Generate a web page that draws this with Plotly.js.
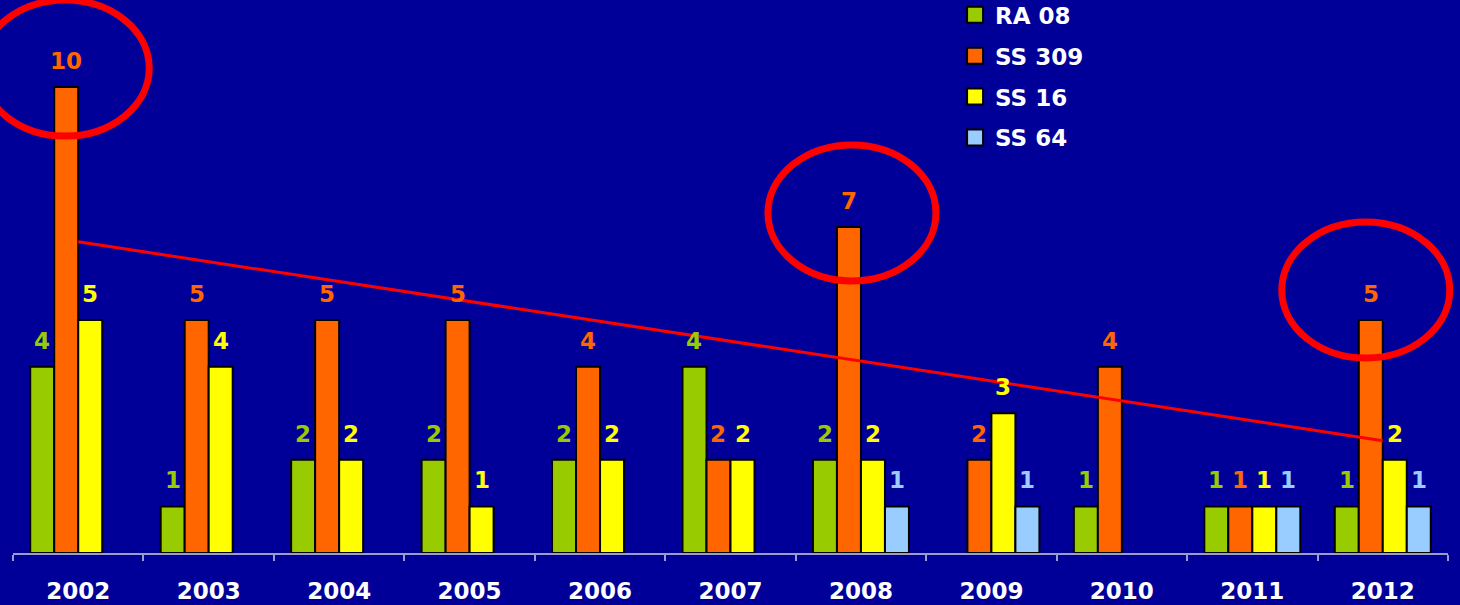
<!DOCTYPE html>
<html>
<head>
<meta charset="utf-8">
<script src="https://cdn.plot.ly/plotly-3.0.1.min.js"></script>
<style>
html,body{margin:0;padding:0;background:#000099;}
#chart{width:1460px;height:605px;}
</style>
</head>
<body>
<div id="chart"></div>
<script>
// ---- data ----
var years = ['2002','2003','2004','2005','2006','2007','2008','2009','2010','2011','2012'];
var ra08  = [4, 1, 2, 2, 2, 4, 2, null, 1, 1, 1];
var ss309 = [10, 5, 5, 5, 4, 2, 7, 2, 4, 1, 5];
var ss16  = [5, 4, 2, 1, 2, 2, 2, 3, null, 1, 2];
var ss64  = [null, null, null, null, null, null, 1, 1, null, 1, 1];
var seriesNames = ['RA 08', 'SS 309', 'SS 16', 'SS 64'];
var seriesColors = ['#99CC00', '#FF6600', '#FFFF00', '#99CCFF'];
// SS 309 trend line
var trendYears = ['2002', '2012'];
var trendValues = [6.68, 2.41];
// highlighted peaks (ellipses around SS 309 bars)
var highlightYears = ['2002', '2008', '2012'];
var highlightValues = [10, 7, 5];

// ---- layout constants ----
var W = 1460, H = 605;
var mL = 13, mR = 12, mT = 0, mB = 52;
var yMax = 11.87;
var bargap = 0.264;
var nSeries = 4;
var catW = (W - mL - mR) / years.length;
var slotW = catW * (1 - bargap) / nSeries;
var font = 'DejaVu Sans, Liberation Sans, Arial, sans-serif';

var allSeries = [ra08, ss309, ss16, ss64];
var traces = [];
allSeries.forEach(function (vals, i) {
  traces.push({
    type: 'bar', x: years, y: vals, name: seriesNames[i],
    marker: {color: seriesColors[i], line: {color: '#000000', width: 2}},
    showlegend: false, hoverinfo: 'x+y+name'
  });
});
// legend proxies
allSeries.forEach(function (vals, i) {
  traces.push({
    type: 'scatter', mode: 'markers', x: [null], y: [null], name: seriesNames[i],
    legendgroup: 'g' + i,
    marker: {symbol: 'square', size: 16, color: seriesColors[i], line: {color: '#000000', width: 2}},
    hoverinfo: 'skip'
  });
});
traces.push({
  type: 'scatter', mode: 'lines', x: trendYears, y: trendValues,
  line: {color: '#FF0000', width: 3}, showlegend: false, hoverinfo: 'skip'
});

var annotations = [];
allSeries.forEach(function (vals, i) {
  vals.forEach(function (v, j) {
    if (v === null) return;
    annotations.push({
      x: j, y: v, xref: 'x', yref: 'y', text: '<b>' + v + '</b>',
      showarrow: false, yanchor: 'bottom', xanchor: 'center',
      xshift: (i - (nSeries - 1) / 2) * slotW, yshift: 11,
      font: {family: font, size: 23, color: seriesColors[i]}
    });
  });
});

var ellOffsets = [-13, -9, -17];
var ellYOffsets = [-19, -14, -30];
var shapes = highlightYears.map(function (yr, k) {
  var j = years.indexOf(yr);
  return {
    type: 'circle', xref: 'paper', yref: 'paper',
    xsizemode: 'pixel', ysizemode: 'pixel',
    xanchor: (j + 0.5) / years.length, yanchor: highlightValues[k] / yMax,
    x0: ellOffsets[k] - 84, x1: ellOffsets[k] + 84,
    y0: -ellYOffsets[k] - 68, y1: -ellYOffsets[k] + 68,
    line: {color: '#FF0000', width: 7}
  };
});

var layout = {
  width: W, height: H,
  margin: {l: mL, r: mR, t: mT, b: mB, pad: 0, autoexpand: false},
  paper_bgcolor: '#000099', plot_bgcolor: '#000099',
  barmode: 'group', bargap: bargap, bargroupgap: 0,
  font: {family: font, color: '#FFFFFF'},
  xaxis: {
    type: 'category', categoryorder: 'array', categoryarray: years,
    range: [-0.5, years.length - 0.5], autorange: false,
    tickson: 'boundaries', ticks: 'outside', ticklen: 6,
    tickwidth: 2, tickcolor: '#9C9CC8', showline: true, linecolor: '#9C9CC8', linewidth: 2,
    showgrid: false, zeroline: false, ticklabelstandoff: 16,
    tickfont: {family: font, size: 23, weight: 700, color: '#FFFFFF'},
    fixedrange: true
  },
  yaxis: {visible: false, range: [0, yMax], autorange: false, fixedrange: true},
  showlegend: true,
  legend: {
    x: 0.6565, y: 1.012, xanchor: 'left', yanchor: 'top',
    bgcolor: 'rgba(0,0,0,0)', borderwidth: 0,
    traceorder: 'grouped', tracegroupgap: 8,
    font: {family: font, size: 23, weight: 700, color: '#FFFFFF'}
  },
  annotations: annotations,
  shapes: shapes
};

Plotly.newPlot('chart', traces, layout, {displayModeBar: false, staticPlot: true});
</script>
</body>
</html>
